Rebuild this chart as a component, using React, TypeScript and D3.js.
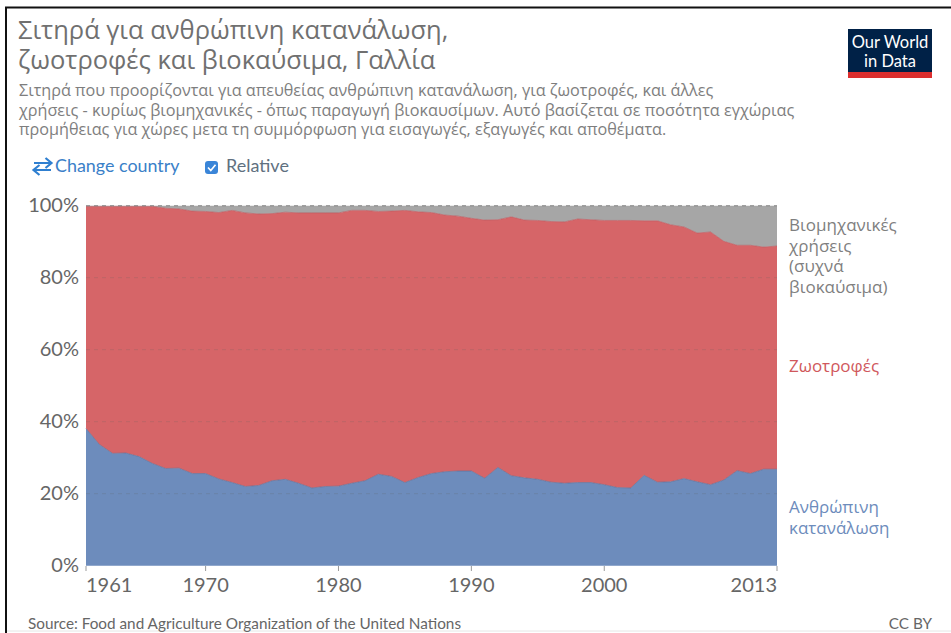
import React from "react";
import * as d3 from "d3";

const years = d3.range(1961, 2014);
const human = [38.1,33.7,31.2,31.3,30.3,28.4,27.0,27.1,25.6,25.6,24.1,23.1,22.0,22.3,23.6,24.0,22.9,21.6,22.0,22.1,22.9,23.6,25.4,24.8,23.1,24.5,25.6,26.1,26.3,26.3,24.3,27.3,25.0,24.4,24.0,23.2,22.9,23.1,23.1,22.5,21.7,21.6,25.1,23.2,23.3,24.2,23.3,22.5,23.8,26.4,25.6,26.8,26.8];
const feed = [61.7,66.1,68.6,68.5,69.5,71.4,72.3,72.0,72.9,72.8,74.0,75.6,76.0,75.4,74.2,74.2,75.1,76.4,76.0,75.9,75.8,75.1,73.0,73.7,75.6,73.8,72.5,71.3,70.8,70.2,71.7,68.8,71.9,71.6,71.9,72.4,72.6,73.2,73.0,73.4,74.2,74.3,70.7,72.6,71.4,69.9,69.1,70.2,66.3,62.6,63.4,61.7,62.0];
const industrial = [0.2,0.2,0.2,0.2,0.2,0.2,0.7,0.9,1.5,1.6,1.9,1.3,2.0,2.3,2.2,1.8,2.0,2.0,2.0,2.0,1.3,1.3,1.6,1.5,1.3,1.7,1.9,2.6,2.9,3.5,4.0,3.9,3.1,4.0,4.1,4.4,4.5,3.7,3.9,4.1,4.1,4.1,4.2,4.2,5.3,5.9,7.6,7.3,9.9,11.0,11.0,11.5,11.2];
const xTicks = [1961, 1970, 1980, 1990, 2000, 2013];
const yTicks = [0, 20, 40, 60, 80, 100];
const titleLines = ["Σιτηρά για ανθρώπινη κατανάλωση,", "ζωοτροφές και βιοκαύσιμα, Γαλλία"];
const subtitleLines = [
  "Σιτηρά που προορίζονται για απευθείας ανθρώπινη κατανάλωση, για ζωοτροφές, και άλλες",
  "χρήσεις - κυρίως βιομηχανικές - όπως παραγωγή βιοκαυσίμων. Αυτό βασίζεται σε ποσότητα εγχώριας",
  "προμήθειας για χώρες μετα τη συμμόρφωση για εισαγωγές, εξαγωγές και αποθέματα.",
];
const seriesKeys = ["human", "feed", "industrial"];
const colors: Record<string, string> = { human: "#6d8cbc", feed: "#d66568", industrial: "#a6a6a6" };
const edgeColors: Record<string, string> = { human: "#5f7099", feed: "#bd5a60", industrial: "#a0a0a0" };
const labels = [
  { lines: ["Ανθρώπινη", "κατανάλωση"], color: "#6d8cbc", y: 513 },
  { lines: ["Ζωοτροφές"], color: "#d0585c", y: 372 },
  { lines: ["Βιομηχανικές", "χρήσεις", "(συχνά", "βιοκαύσιμα)"], color: "#7f7f7f", y: 231 },
];

const LATIN = "Lato, 'Noto Sans', sans-serif";
const GREEK = "'Open Sans', 'Noto Sans', sans-serif";

export default function App() {
  const x = d3.scaleLinear().domain([1961, 2013]).range([86, 777]);
  const y = d3.scaleLinear().domain([0, 100]).range([565.7, 205.7]);
  const rows = years.map((yr, i) => ({ year: yr, human: human[i], feed: feed[i], industrial: industrial[i] }));
  const stacked = d3.stack<any>().keys(seriesKeys)(rows);
  const area = d3.area<any>().x((d) => x(d.data.year)).y0((d) => y(d[0])).y1((d) => y(d[1]));
  const line = d3.line<any>().x((d) => x(d.data.year)).y((d) => y(d[1]));
  return (
    <svg width={951} height={633} style={{ position: "absolute", left: 0, top: 0, background: "#fff" }}>
      <path d="M6 633V7.5H951" fill="none" stroke="#111" strokeWidth={2} />
      <line x1={7} x2={951} y1={631} y2={631} stroke="#e6e6e6" />
      {titleLines.map((t, i) => (
        <text key={t} x={18} y={39 + i * 30} fontFamily={GREEK} fontSize={25.5} fill="#707070">{t}</text>
      ))}
      {subtitleLines.map((t, i) => (
        <text key={t} x={19} y={96 + i * 19.5} fontFamily={GREEK} fontSize={16.2} fill="#7e7e7e">{t}</text>
      ))}
      <rect x={848} y={29} width={84} height={49} fill="#002147" />
      <rect x={848} y={72} width={84} height={6} fill="#dc2e2e" />
      <text x={890} y={48} textAnchor="middle" fontFamily={LATIN} fontSize={16.5} fill="#fff">Our World</text>
      <text x={890} y={67} textAnchor="middle" fontFamily={LATIN} fontSize={16.5} fill="#fff">in Data</text>

      <path d="M34 163H51M45.5 158L51.5 163L45.5 168M51 170H34M39.5 165L33.5 170L39.5 175" fill="none" stroke="#2f7fd0" strokeWidth={2.2} />
      <text x={55} y={172} fontFamily={LATIN} fontSize={17.9} fill="#3a80c8">Change country</text>
      <rect x={205} y={161} width={13} height={13} rx={3} fill="#3a85d8" />
      <path d="M208 167.5L210.8 170.5L215.5 164.8" fill="none" stroke="#fff" strokeWidth={1.7} />
      <text x={226} y={172} fontFamily={LATIN} fontSize={18} fill="#607080">Relative</text>

      {stacked.map((s) => (
        <path key={s.key} d={area(s) ?? ""} fill={colors[s.key]} />
      ))}
      {stacked.slice(0, 2).map((s) => (
        <path key={s.key} d={line(s) ?? ""} fill="none" stroke={edgeColors[s.key]} strokeWidth={0.7} />
      ))}
      {yTicks.map((t) => (
        <g key={t}>
          {t > 0 && (
            <line x1={86} x2={777} y1={y(t)} y2={y(t)} stroke="#666" strokeOpacity={t === 100 ? 0.7 : 0.22} strokeDasharray="4 4" />
          )}
          <text x={79} y={y(t) + 6.5} textAnchor="end" fontFamily={LATIN} fontSize={20} fill="#666">{t}%</text>
        </g>
      ))}
      {xTicks.map((t, i) => (
        <g key={t}>
          <line x1={x(t)} x2={x(t)} y1={566} y2={571} stroke="#999" />
          <text
            x={x(t)}
            y={592}
            textAnchor={i === 0 ? "start" : i === xTicks.length - 1 ? "end" : "middle"}
            fontFamily={LATIN}
            fontSize={20}
            fill="#666"
          >{t}</text>
        </g>
      ))}
      {labels.map((l) =>
        l.lines.map((ln, i) => (
          <text key={ln} x={789} y={l.y + i * 20.7} fontFamily={GREEK} fontSize={17} fill={l.color}>{ln}</text>
        ))
      )}
      <text x={28} y={628.5} fontFamily={LATIN} fontSize={15.3} fill="#666">Source: Food and Agriculture Organization of the United Nations</text>
      <text x={932} y={628.5} textAnchor="end" fontFamily={LATIN} fontSize={15.3} fill="#666">CC BY</text>
    </svg>
  );
}
